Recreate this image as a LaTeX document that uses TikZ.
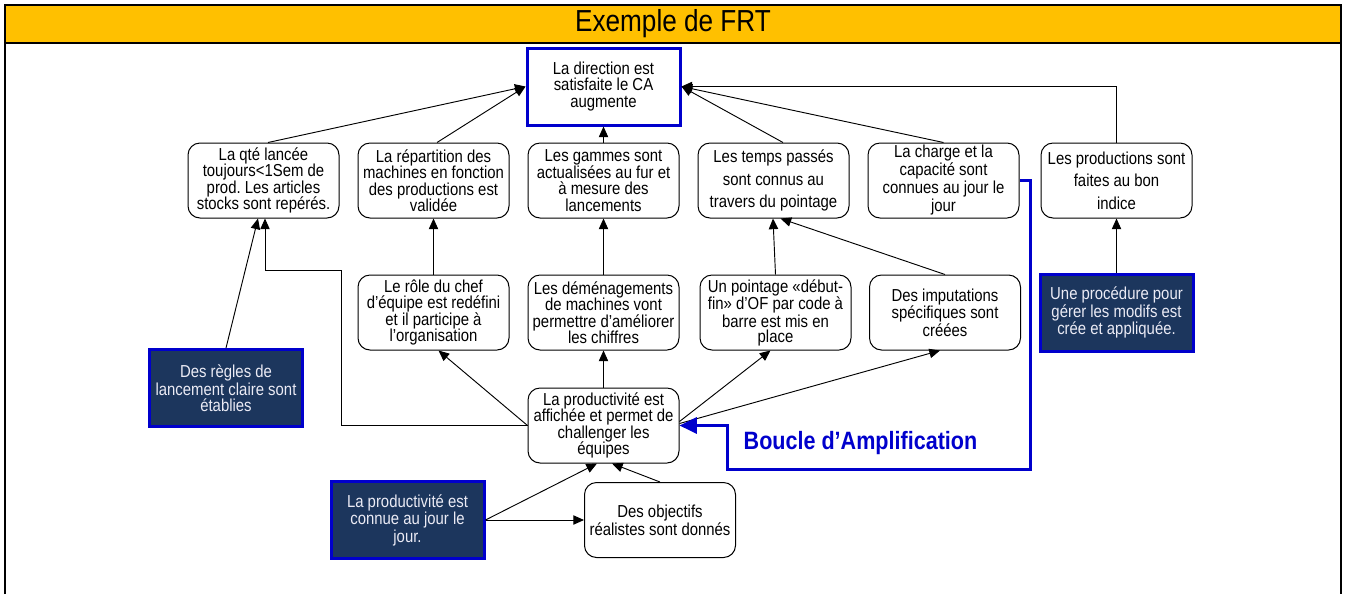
\documentclass[tikz,border=0pt]{standalone}
\usepackage{fontspec}
\setmainfont{Liberation Sans}[FakeStretch=0.86]
\usetikzlibrary{arrows.meta,calc}
\frenchspacing

\definecolor{titlegold}{RGB}{255,192,0}
\definecolor{frtblue}{RGB}{0,0,204}
\definecolor{frtnavy}{RGB}{28,54,93}
\definecolor{navytext}{RGB}{235,235,245}

\begin{document}
\begin{tikzpicture}[x=0.75pt,y=-0.75pt,
	box/.style={draw, line width=0.75pt, rounded corners=9pt, fill=white, inner sep=0pt,
		minimum width=113.25pt, minimum height=56.25pt, align=center,
		font={\fontsize{13pt}{12.4pt}\selectfont}},
	airy/.style={font={\fontsize{13pt}{16.8pt}\selectfont}},
	loose/.style={font={\fontsize{13pt}{13.5pt}\selectfont}},
	tight/.style={font={\fontsize{13pt}{11pt}\selectfont}},
	topbox/.style={box, rounded corners=0pt, draw=frtblue, line width=2.25pt,
		minimum width=114.75pt, minimum height=57.75pt},
	navybox/.style={box, rounded corners=0pt, draw=frtblue, line width=2.25pt, fill=frtnavy,
		text=navytext, minimum width=114.75pt, minimum height=57.75pt,
		font={\fontsize{13pt}{12pt}\selectfont}},
	arr/.style={-{Triangle[length=8pt,width=7pt]}, line width=0.7pt},
	loopline/.style={-{Triangle[length=13pt,width=12pt]}, draw=frtblue, line width=2.25pt}]

\useasboundingbox (0,0) rectangle (1346,594);

% frame and title
\fill[titlegold] (5,5) rectangle (1341,43);
\draw[line width=1.5pt] (5,43) -- (1341,43);
\draw[line width=1.5pt] (5,594) -- (5,5) -- (1341,5) -- (1341,594);
\node[font={\fontsize{22.8pt}{23pt}\selectfont}] (title) at (673,24) {Exemple de FRT};

\node[topbox] (dir) at (603.5,86.5) {La direction est\\satisfaite le CA\\augmente};

% first row
\node[box] (qte) at (263.5,180.5) {La qté lancée\\toujours<1Sem de\\prod. Les articles\\stocks sont repérés.};
\node[box] (rep) at (433.5,180.5) {La répartition des\\machines en fonction\\des productions est\\validée};
\node[box] (gam) at (603.5,180.5) {Les gammes sont\\actualisées au fur et\\à mesure des\\lancements};
\node[box, airy] (tps) at (773.5,180.5) {Les temps passés\\sont connus au\\travers du pointage};
\node[box, loose] (chg) at (943.5,180.5) {La charge et la\\capacité sont\\connues au jour le\\jour};
\node[box, airy] (prod) at (1116.5,180.5) {Les productions sont\\faites au bon\\indice};

% second row
\node[box] (role) at (433.5,312.5) {Le rôle du chef\\d’équipe est redéfini\\et il participe à\\l’organisation};
\node[box] (dem) at (603.5,312.5) {Les déménagements\\de machines vont\\permettre d’améliorer\\les chiffres};
\node[box, tight] (pt) at (775.5,312.5) {Un pointage «début-\\fin» d’OF par code à\\barre est mis en\\place};
\node[box, tight] (imp) at (945,312.5) {Des imputations\\spécifiques sont\\créées};
\node[navybox] (proc) at (1116.5,312.5) {Une procédure pour\\gérer les modifs est\\crée et appliquée.};

\node[navybox] (regl) at (226,388) {Des règles de\\lancement claire sont\\établies};
\node[box] (aff) at (603.5,425.5) {La productivité est\\affichée et permet de\\challenger les\\équipes};
\node[navybox] (conn) at (407.5,520) {La productivité est\\connue au jour le\\jour.};
\node[box, loose] (obj) at (660,520) {Des objectifs\\réalistes sont donnés};

% links
\draw[arr] ($(qte.north)+(4.5,0)$) -- (dir.west);
\draw[arr] ($(rep.north)+(3.5,0)$) -- (dir.west);
\draw[arr] (gam.north) -- (dir.south);
\draw[arr] ($(tps.north)+(9.5,0)$) -- (dir.east);
\draw[arr] (chg.north) -- (dir.east);
\draw[arr] (prod.north) |- (dir.east);
\draw[arr] (role.north) -- (rep.south);
\draw[arr] (dem.north) -- (gam.south);
\draw[arr] (pt.north) -- ($(tps.south)+(-0.5,0)$);
\draw[arr] (imp.north) -- ($(tps.south)+(7,0)$);
\draw[arr] (proc.north) -- (prod.south);
\draw[arr] (regl.north) -- ($(qte.south)+(-5.5,0)$);
\draw[arr] (aff.west) -| (341,270) -| ($(qte.south)+(1.5,0)$);
\draw[arr] (aff.west) -- ($(role.south)+(5,0)$);
\draw[arr] (aff.north) -- (dem.south);
\draw[arr] ($(aff.east)+(0,-4)$) -- ($(pt.south)+(-5,0)$);
\draw[arr] ($(aff.east)+(0,-2)$) -- ($(imp.south)+(-5,0)$);
\draw[arr] (conn.east) -- ($(aff.south)+(-6.5,0)$);
\draw[arr] (conn.east) -- (obj.west);
\draw[arr] (obj.north) -- ($(aff.south)+(8.5,0)$);

% amplification loop
\coordinate (lpbot) at (1030,469);
\draw[loopline] (chg.east) -| (lpbot) -| ($(aff.east)+(48,0)$) -- (aff.east);
\node[anchor=west, text=frtblue, font={\fontsize{18.8pt}{19pt}\selectfont\bfseries}] (amp) at (739,443) {Boucle d’Amplification};

\end{tikzpicture}
\end{document}
